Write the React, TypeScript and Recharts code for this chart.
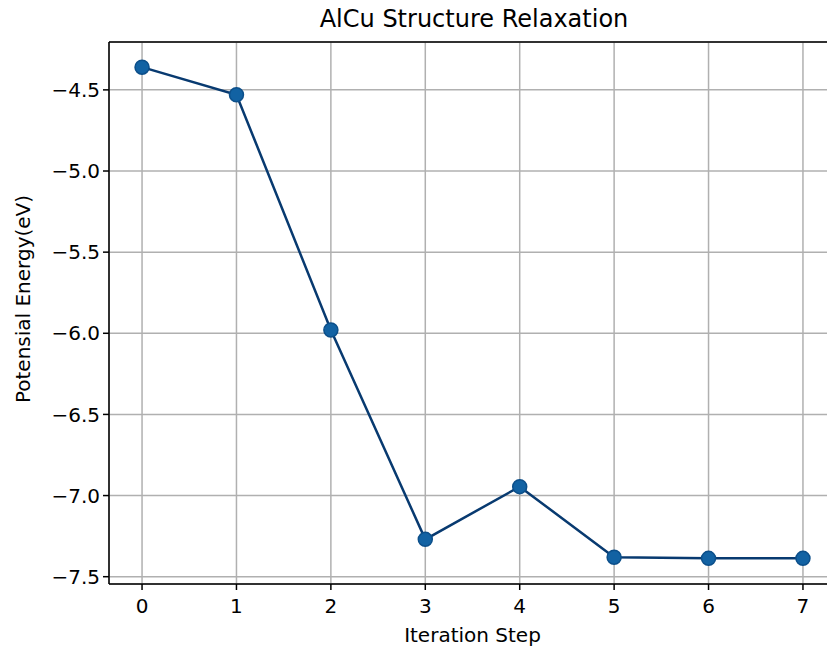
import { LineChart, Line, XAxis, YAxis, CartesianGrid, ReferenceLine, Label } from 'recharts';

// Relaxation steps and energies
const steps = [0, 1, 2, 3, 4, 5, 6, 7];
const energies = [-4.36, -4.53, -5.98, -7.27, -6.945, -7.38, -7.387, -7.387];
const xTicks = [0, 1, 2, 3, 4, 5, 6, 7];
const yTicks = [-7.5, -7.0, -6.5, -6.0, -5.5, -5.0, -4.5];

const data = steps.map((s, i) => ({ step: s, energy: energies[i] }));

const FONT = '"DejaVu Sans", sans-serif';
const minus = (v: number) => v.toFixed(1).replace('-', '\u2212');

export default function App() {
  return (
    <div style={{ position: 'fixed', left: 0, top: 0, width: 827, height: 646, overflow: 'hidden', background: '#fff', fontFamily: FONT }}>
      <div style={{ position: 'absolute', left: 0, width: 948, top: 5, textAlign: 'center', fontSize: 24, color: '#000' }}>
        AlCu Structure Relaxation
      </div>
      <LineChart
        width={845}
        height={646}
        data={data}
        margin={{ top: 42, right: 9, bottom: 0, left: 0 }}
      >
        <CartesianGrid stroke="#b0b0b0" strokeWidth={1.5} />
        <XAxis
          dataKey="step"
          type="number"
          domain={[-0.35, 7.35]}
          ticks={xTicks}
          height={62}
          allowDataOverflow
          stroke="#000"
          strokeWidth={1.5}
          tickSize={6}
          tickMargin={9}
          tick={{ fill: '#000', fontSize: 20, fontFamily: FONT }}
        >
          <Label
            content={({ viewBox }: any) => (
              <text x={viewBox.x + viewBox.width / 2} y={642} textAnchor="middle" fontSize={20} fontFamily={FONT} fill="#000">
                Iteration Step
              </text>
            )}
          />
        </XAxis>
        <YAxis
          type="number"
          domain={[-7.545, -4.205]}
          ticks={yTicks}
          width={109}
          allowDataOverflow
          stroke="#000"
          strokeWidth={1.5}
          tickSize={6}
          tickMargin={3}
          tickFormatter={minus}
          tick={{ fill: '#000', fontSize: 20, fontFamily: FONT }}
        >
          <Label
            content={() => (
              <text x={30} y={299} transform="rotate(-90 30 299)" textAnchor="middle" fontSize={20} fontFamily={FONT} fill="#000">
                Potensial Energy(eV)
              </text>
            )}
          />
        </YAxis>
        <ReferenceLine y={-4.205} stroke="#000" strokeWidth={1.5} />
        <Line
          dataKey="energy"
          type="linear"
          stroke="#083a70"
          strokeWidth={2.5}
          dot={{ r: 7, fill: '#1262a3', stroke: '#0c4f8a', strokeWidth: 1.5 }}
          isAnimationActive={false}
        />
      </LineChart>
    </div>
  );
}
